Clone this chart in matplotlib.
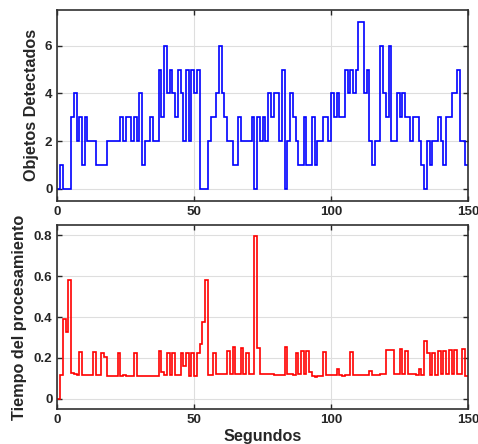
import numpy as np
import matplotlib
matplotlib.use("Agg")
import matplotlib.pyplot as plt

plt.rcParams['font.family'] = ['Liberation Sans', 'DejaVu Sans']
plt.rcParams['font.weight'] = 'bold'

# objetos detectados por segundo (0..150 s)
objetos = [0, 1, 0, 0, 0, 3, 4, 2, 3, 1,
           3, 2, 2, 2, 1, 1, 1, 1, 2, 2,
           2, 2, 2, 3, 2, 3, 3, 2, 3, 2,
           4, 1, 2, 2, 3, 2, 2, 5, 3, 6,
           4, 5, 4, 3, 5, 4, 2, 5, 2, 5,
           4, 5, 0, 0, 0, 2, 3, 3, 4, 6,
           4, 3, 2, 2, 1, 1, 3, 2, 2, 2,
           2, 3, 0, 3, 2, 3, 2, 4, 3, 4,
           4, 2, 5, 0, 2, 4, 3, 2, 1, 1,
           3, 1, 1, 3, 1, 2, 2, 3, 3, 2,
           4, 3, 4, 3, 3, 5, 4, 5, 4, 5,
           7, 7, 4, 5, 2, 1, 2, 2, 6, 4,
           3, 6, 2, 2, 4, 3, 4, 3, 3, 2,
           3, 3, 2, 1, 0, 2, 1, 2, 2, 3,
           2, 1, 3, 3, 4, 4, 5, 2, 2, 1,
           1]

# tiempo de procesamiento por segundo
tiempo = [0.0, 0.115, 0.39, 0.325, 0.58, 0.125, 0.122, 0.118, 0.23, 0.115,
          0.115, 0.115, 0.115, 0.23, 0.115, 0.115, 0.225, 0.205, 0.112, 0.112,
          0.112, 0.112, 0.225, 0.113, 0.115, 0.113, 0.112, 0.113, 0.225, 0.112,
          0.112, 0.11, 0.11, 0.11, 0.111, 0.112, 0.112, 0.235, 0.13, 0.115,
          0.225, 0.115, 0.225, 0.115, 0.115, 0.225, 0.16, 0.225, 0.11, 0.225,
          0.11, 0.225, 0.27, 0.375, 0.58, 0.115, 0.115, 0.225, 0.12, 0.12,
          0.122, 0.12, 0.235, 0.12, 0.255, 0.12, 0.12, 0.25, 0.12, 0.225,
          0.12, 0.12, 0.795, 0.25, 0.12, 0.12, 0.12, 0.12, 0.12, 0.118,
          0.118, 0.118, 0.115, 0.255, 0.12, 0.12, 0.118, 0.225, 0.12, 0.235,
          0.12, 0.235, 0.13, 0.11, 0.108, 0.11, 0.11, 0.23, 0.115, 0.115,
          0.115, 0.115, 0.145, 0.115, 0.112, 0.115, 0.115, 0.23, 0.115, 0.115,
          0.115, 0.115, 0.115, 0.115, 0.135, 0.115, 0.115, 0.115, 0.12, 0.12,
          0.24, 0.24, 0.24, 0.12, 0.12, 0.245, 0.12, 0.235, 0.12, 0.12,
          0.12, 0.118, 0.145, 0.115, 0.285, 0.225, 0.115, 0.225, 0.115, 0.235,
          0.12, 0.235, 0.12, 0.24, 0.12, 0.24, 0.12, 0.12, 0.245, 0.11,
          0.11]

x_ticks = [0, 50, 100, 150]
y1_ticks = [0, 2, 4, 6]
y2_ticks = [0, 0.2, 0.4, 0.6, 0.8]

edges = np.arange(len(objetos) + 1)

fig = plt.figure(figsize=(4.78, 4.44), dpi=100)
ax1 = fig.add_axes([0.120, 0.548, 0.859, 0.4295])
ax2 = fig.add_axes([0.120, 0.079, 0.859, 0.414])

ax1.stairs(objetos, edges, baseline=None, color='#0000ff', lw=1.2)
ax2.stairs(tiempo, edges, baseline=None, color='#ff0000', lw=1.2)

ax1.set_ylim(-0.5, 7.5)
ax1.set_yticks(y1_ticks)
ax2.set_ylim(-0.05, 0.85)
ax2.set_yticks(y2_ticks)
ax2.set_yticklabels(['0', '0.2', '0.4', '0.6', '0.8'])

for ax in (ax1, ax2):
    ax.set_xlim(0, 150)
    ax.set_xticks(x_ticks)
    ax.grid(True, color='#dedede', lw=0.8)
    ax.set_axisbelow(True)
    ax.tick_params(direction='in', length=3.5, width=1, color='#262626',
                   labelcolor='#262626', labelsize=9.6, top=True, right=True, pad=3.5)
    for s in ax.spines.values():
        s.set_color('#303030')
        s.set_linewidth(1.2)

ax1.set_ylabel('Objetos Detectados', fontsize=11.7, fontweight='bold', color='#262626')
ax1.yaxis.set_label_coords(-0.045, 0.5)
ax2.set_ylabel('Tiempo del procesamiento', fontsize=11.7, fontweight='bold', color='#262626')
ax2.yaxis.set_label_coords(-0.074, 0.5)
ax2.set_xlabel('Segundos', fontsize=11.7, fontweight='bold', color='#262626', labelpad=2)

fig.savefig('out.png', dpi=100)
